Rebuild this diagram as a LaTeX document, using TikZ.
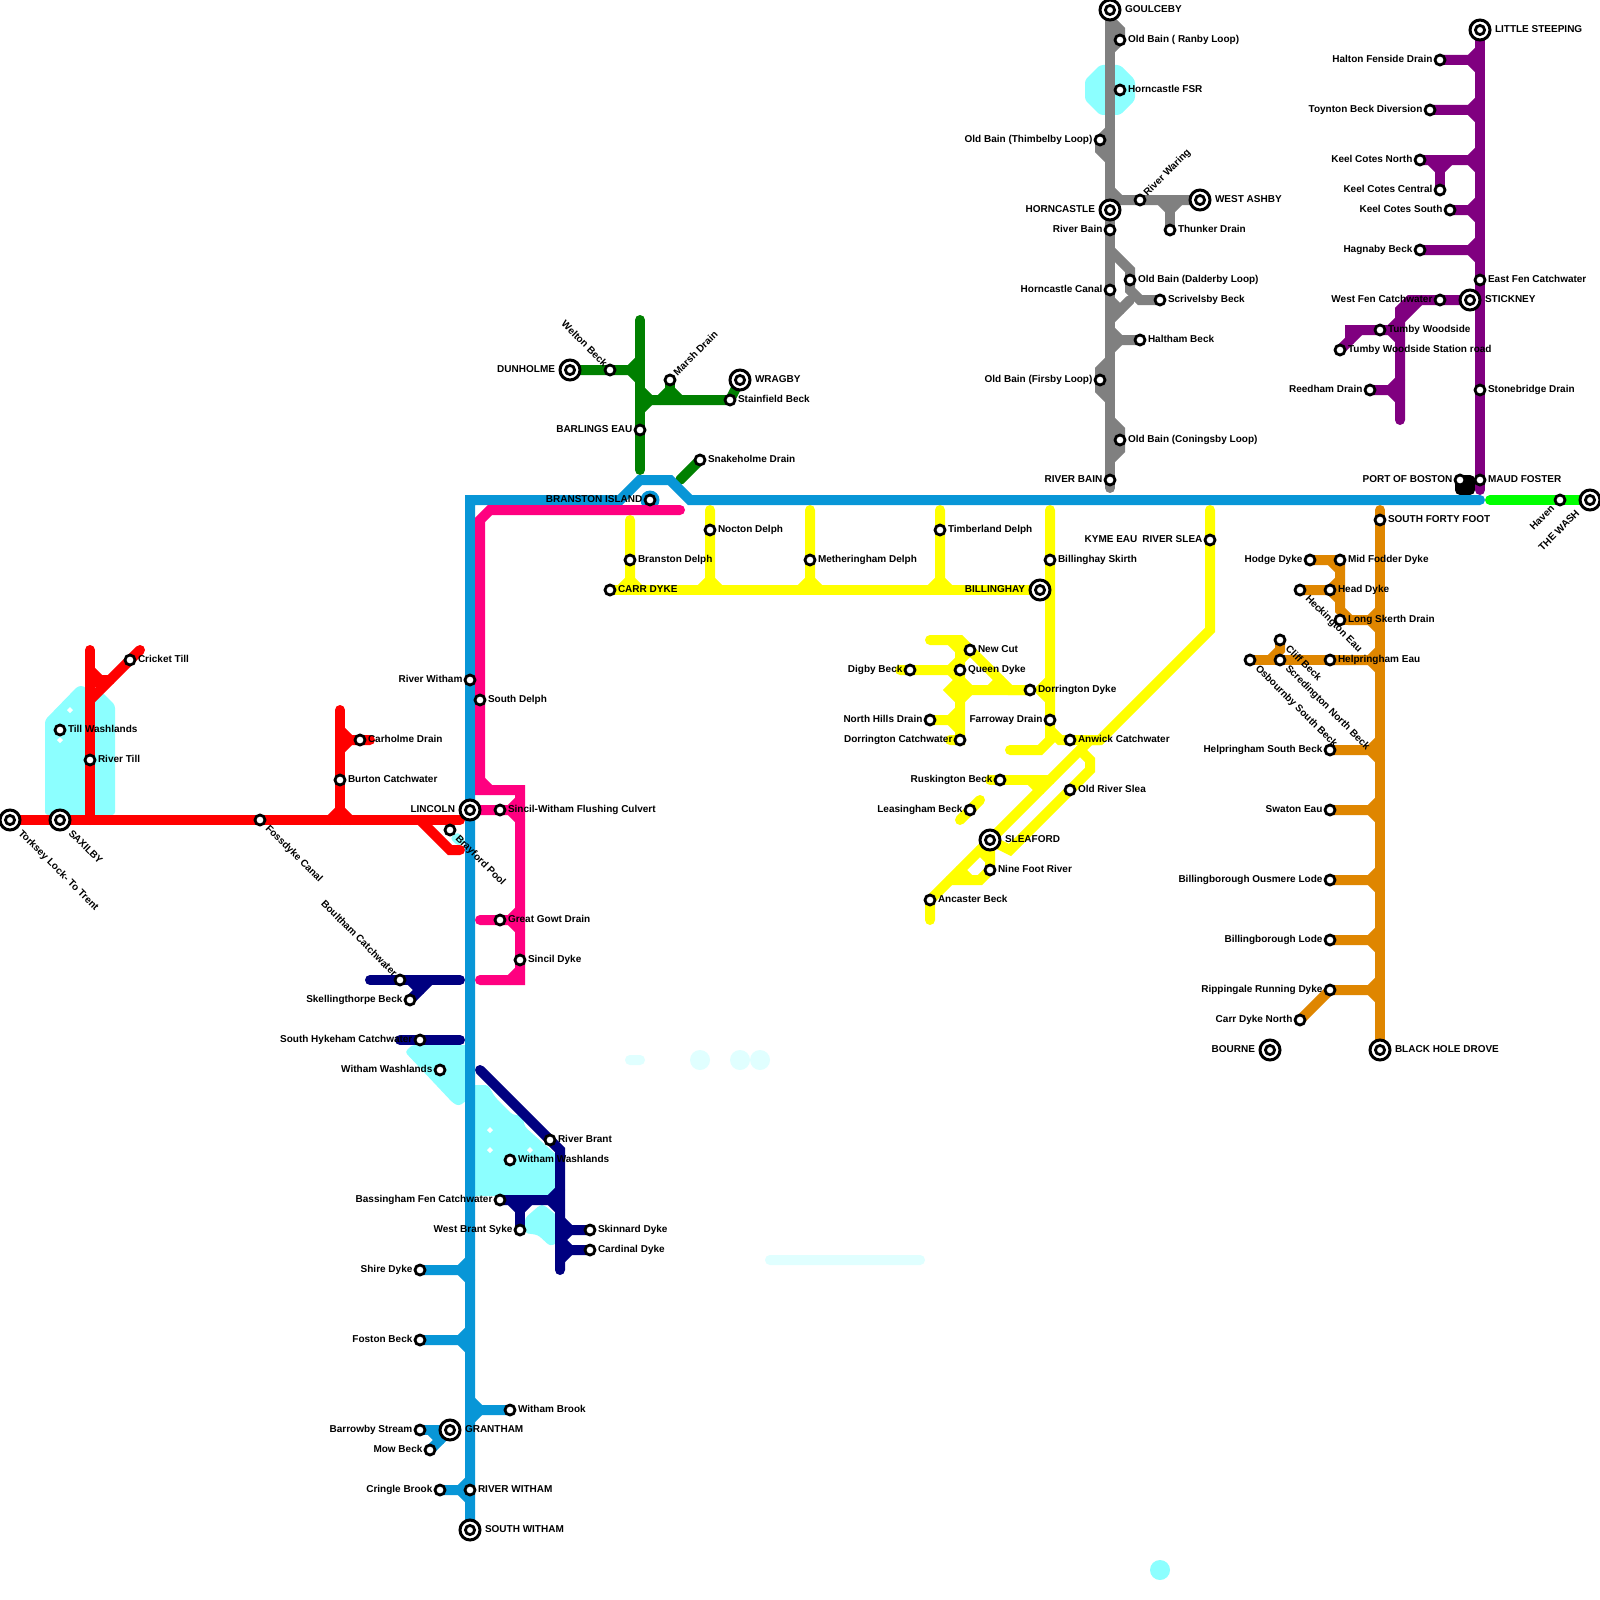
\documentclass[tikz,border=0pt]{standalone}
\usepackage{fontspec}
\setmainfont{Liberation Sans}
\pgfdeclarelayer{water}
\pgfdeclarelayer{lines}
\pgfsetlayers{water,lines,main}
\definecolor{cRed}{HTML}{FF0000}
\definecolor{cBlue}{HTML}{0896D7}
\definecolor{cPink}{HTML}{FF0080}
\definecolor{cNavy}{HTML}{000080}
\definecolor{cGreen}{HTML}{008000}
\definecolor{cLime}{HTML}{00FF00}
\definecolor{cYellow}{HTML}{FFFF00}
\definecolor{cOrange}{HTML}{DF8600}
\definecolor{cPurple}{HTML}{800080}
\definecolor{cGray}{HTML}{808080}
\definecolor{cWater}{HTML}{8CFFFF}
\definecolor{cPale}{HTML}{E0FFFF}
\tikzset{
  stn/.style={circle,draw=black,fill=white,line width=1.4pt,minimum size=5pt,inner sep=0pt,outer sep=0pt},
  icout/.style={circle,draw=black,fill=white,line width=1.5pt,minimum size=10pt,inner sep=0pt,outer sep=0pt},
  icin/.style={circle,draw=black,fill=white,line width=1.4pt,minimum size=4.6pt,inner sep=0pt,outer sep=0pt},
  lab/.style={font=\fontsize{5}{6}\selectfont\bfseries,text=black,inner sep=0pt,outer sep=0pt},
  lr/.style={lab,xshift=4pt,yshift=-1.25pt,anchor=base west},
  ll/.style={lab,xshift=-3.8pt,yshift=-1.25pt,anchor=base east},
  irr/.style={lab,xshift=7.5pt,yshift=-1.25pt,anchor=base west},
  ill/.style={lab,xshift=-7.5pt,yshift=-1.25pt,anchor=base east},
  ldr/.style={lab,xshift=2.5pt,yshift=-4.5pt,rotate=-45,anchor=base west},
  ldrb/.style={lab,xshift=4pt,yshift=-7pt,rotate=-45,anchor=base west},
  lur/.style={lab,xshift=3.8pt,yshift=1.8pt,rotate=45,anchor=base west},
  lul/.style={lab,xshift=-3.4pt,yshift=1.5pt,rotate=-45,anchor=base east},
  ldl/.style={lab,xshift=-2.5pt,yshift=-4.5pt,rotate=45,anchor=base east},
  ldlb/.style={lab,xshift=-5pt,yshift=-7pt,rotate=45,anchor=base east},
  river/.style={line width=5pt,line cap=round,line join=miter},
  wat/.style={fill=cWater,rounded corners=1.5pt},
  pale/.style={fill=cPale},
  speck/.style={fill=white}
}
\newcommand{\St}[4]{\node[stn] (#1) at (#2) {}; \node[#3] (#1-l) at (#1.center) {#4};}
\newcommand{\Ic}[4]{\node[icout] (#1) at (#2) {}; \node[icin] (#1-i) at (#1.center) {}; \node[#3] (#1-l) at (#1.center) {#4};}
\begin{document}
\begin{tikzpicture}[x=0.5pt,y=-0.5pt]
\useasboundingbox (0,0) rectangle (1600,1600);

% ---- red
\Ic{torksey}{10,820}{ldrb}{Torksey Lock- To Trent}
\Ic{saxilby}{60,820}{ldrb}{SAXILBY}
\St{fossdyke}{260,820}{ldr}{Fossdyke Canal}
\St{brayford}{450,830}{ldr}{Brayford Pool}
\St{carholme}{360,740}{lr}{Carholme Drain}
\St{burton}{340,780}{lr}{Burton Catchwater}
\St{rivertill}{90,760}{lr}{River Till}
\St{tillwash}{60,730}{lr}{Till Washlands}
\St{cricket}{130,660}{lr}{Cricket Till}
\Ic{lincoln}{470,810}{ill}{LINCOLN}
% ---- blue
\St{riverwitham}{470,680}{ll}{River Witham}
\St{branston}{650,500}{ll}{BRANSTON ISLAND}
\St{shire}{420,1270}{ll}{Shire Dyke}
\St{foston}{420,1340}{ll}{Foston Beck}
\St{withambrook}{510,1410}{lr}{Witham Brook}
\St{barrowby}{420,1430}{ll}{Barrowby Stream}
\Ic{grantham}{450,1430}{irr}{GRANTHAM}
\St{mow}{430,1450}{ll}{Mow Beck}
\St{cringle}{440,1490}{ll}{Cringle Brook}
\St{riverw}{470,1490}{lr}{RIVER WITHAM}
\Ic{southwitham}{470,1530}{irr}{SOUTH WITHAM}
% ---- pink
\St{southdelph}{480,700}{lr}{South Delph}
\St{sincilw}{500,810}{lr}{Sincil-Witham Flushing Culvert}
\St{gowt}{500,920}{lr}{Great Gowt Drain}
\St{sincil}{520,960}{lr}{Sincil Dyke}
% ---- navy
\St{boultham}{400,980}{lul}{Boultham Catchwater}
\St{skelling}{410,1000}{ll}{Skellingthorpe Beck}
\St{hykeham}{420,1040}{ll}{South Hykeham Catchwater}
\St{washl}{440,1070}{ll}{Witham Washlands}
\St{brant}{550,1140}{lr}{River Brant}
\St{washr}{510,1160}{lr}{Witham Washlands}
\St{bassingham}{500,1200}{ll}{Bassingham Fen Catchwater}
\St{westbrant}{520,1230}{ll}{West Brant Syke}
\St{skinnard}{590,1230}{lr}{Skinnard Dyke}
\St{cardinal}{590,1250}{lr}{Cardinal Dyke}
% ---- green
\Ic{dunholme}{570,370}{ill}{DUNHOLME}
\St{welton}{610,370}{lul}{Welton Beck}
\St{marsh}{670,380}{lur}{Marsh Drain}
\Ic{wragby}{740,380}{irr}{WRAGBY}
\St{stainfield}{730,400}{lr}{Stainfield Beck}
\St{barlings}{640,430}{ll}{BARLINGS EAU}
\St{snakeholme}{700,460}{lr}{Snakeholme Drain}
% ---- gray
\Ic{goulceby}{1110,10}{irr}{GOULCEBY}
\St{ranby}{1120,40}{lr}{Old Bain ( Ranby Loop)}
\St{fsr}{1120,90}{lr}{Horncastle FSR}
\St{thimbelby}{1100,140}{ll}{Old Bain (Thimbelby Loop)}
\St{waring}{1140,200}{lur}{River Waring}
\Ic{westashby}{1200,200}{irr}{WEST ASHBY}
\Ic{horncastle}{1110,210}{ill}{HORNCASTLE}
\St{thunker}{1170,230}{lr}{Thunker Drain}
\St{riverbain}{1110,230}{ll}{River Bain}
\St{dalderby}{1130,280}{lr}{Old Bain (Dalderby Loop)}
\St{canal}{1110,290}{ll}{Horncastle Canal}
\St{scrivelsby}{1160,300}{lr}{Scrivelsby Beck}
\St{haltham}{1140,340}{lr}{Haltham Beck}
\St{firsby}{1100,380}{ll}{Old Bain (Firsby Loop)}
\St{coningsby}{1120,440}{lr}{Old Bain (Coningsby Loop)}
\St{bainlow}{1110,480}{ll}{RIVER BAIN}
% ---- purple
\Ic{steeping}{1480,30}{irr}{LITTLE STEEPING}
\St{halton}{1440,60}{ll}{Halton Fenside Drain}
\St{toynton}{1430,110}{ll}{Toynton Beck Diversion}
\St{keeln}{1420,160}{ll}{Keel Cotes North}
\St{keelc}{1440,190}{ll}{Keel Cotes Central}
\St{keels}{1450,210}{ll}{Keel Cotes South}
\St{hagnaby}{1420,250}{ll}{Hagnaby Beck}
\St{eastfen}{1480,280}{lr}{East Fen Catchwater}
\St{westfen}{1440,300}{ll}{West Fen Catchwater}
\Ic{stickney}{1470,300}{irr}{STICKNEY}
\St{tumby}{1380,330}{lr}{Tumby Woodside}
\St{tumbys}{1340,350}{lr}{Tumby Woodside Station road}
\St{reedham}{1370,390}{ll}{Reedham Drain}
\St{stonebridge}{1480,390}{lr}{Stonebridge Drain}
\St{boston}{1460,480}{ll}{PORT OF BOSTON}
\St{maud}{1480,480}{lr}{MAUD FOSTER}
% ---- lime
\St{haven}{1560,500}{ldl}{Haven}
\Ic{wash}{1590,500}{ldlb}{THE WASH}
% ---- orange
\St{fortyfoot}{1380,520}{lr}{SOUTH FORTY FOOT}
\St{hodge}{1310,560}{ll}{Hodge Dyke}
\St{midfodder}{1340,560}{lr}{Mid Fodder Dyke}
\St{head}{1330,590}{lr}{Head Dyke}
\St{heckington}{1300,590}{ldr}{Heckington Eau}
\St{skerth}{1340,620}{lr}{Long Skerth Drain}
\St{cliff}{1280,640}{ldr}{Cliff Beck}
\St{scredington}{1280,660}{ldr}{Scredington North Beck}
\St{osbournby}{1250,660}{ldr}{Osbournby South Beck}
\St{helpeau}{1330,660}{lr}{Helpringham Eau}
\St{helpsouth}{1330,750}{ll}{Helpringham South Beck}
\St{swaton}{1330,810}{ll}{Swaton Eau}
\St{ousmere}{1330,880}{ll}{Billingborough Ousmere Lode}
\St{lode}{1330,940}{ll}{Billingborough Lode}
\St{rippingale}{1330,990}{ll}{Rippingale Running Dyke}
\St{carrnorth}{1300,1020}{ll}{Carr Dyke North}
\Ic{bourne}{1270,1050}{ill}{BOURNE}
\Ic{blackhole}{1380,1050}{irr}{BLACK HOLE DROVE}
% ---- yellow
\St{carr}{610,590}{lr}{CARR DYKE}
\St{branstond}{630,560}{lr}{Branston Delph}
\St{nocton}{710,530}{lr}{Nocton Delph}
\St{metheringham}{810,560}{lr}{Metheringham Delph}
\St{timberland}{940,530}{lr}{Timberland Delph}
\St{skirth}{1050,560}{lr}{Billinghay Skirth}
\Ic{billinghay}{1040,590}{ill}{BILLINGHAY}
\St{slea}{1210,540}{ll}{KYME EAU\hspace{2.5pt}RIVER SLEA}
\St{newcut}{970,650}{lr}{New Cut}
\St{queen}{960,670}{lr}{Queen Dyke}
\St{digby}{910,670}{ll}{Digby Beck}
\St{dorrdyke}{1030,690}{lr}{Dorrington Dyke}
\St{northhills}{930,720}{ll}{North Hills Drain}
\St{farroway}{1050,720}{ll}{Farroway Drain}
\St{dorrcatch}{960,740}{ll}{Dorrington Catchwater}
\St{anwick}{1070,740}{lr}{Anwick Catchwater}
\St{ruskington}{1000,780}{ll}{Ruskington Beck}
\St{oldslea}{1070,790}{lr}{Old River Slea}
\St{leasingham}{970,810}{ll}{Leasingham Beck}
\Ic{sleaford}{990,840}{irr}{SLEAFORD}
\St{ninefoot}{990,870}{lr}{Nine Foot River}
\St{ancaster}{930,900}{lr}{Ancaster Beck}

\begin{pgfonlayer}{water}
  \fill[white] (0,0) rectangle (1600,1600);
  \fill[wat] (45,720) -- (78,686) -- (84,686) -- (90,692) -- (90,815) -- (45,815) -- cycle;
  \fill[wat] (90,700) -- (96,692) -- (102,692) -- (115,705) -- (115,815) -- (90,815) -- cycle;
  \fill[wat] (1085,80) -- (1100,65) -- (1120,65) -- (1135,80) -- (1135,100) -- (1120,115) -- (1100,115) -- (1085,100) -- cycle;
  \fill[wat] (405,1052) -- (412,1045) -- (470,1045) -- (470,1098) -- (459,1106) -- (453,1103) -- cycle;
  \fill[wat] (470,1085) -- (488,1085) -- (495,1097) -- (513,1115) -- (522,1115) -- (525,1127) -- (560,1158) -- (560,1188) -- (548,1196) -- (470,1196) -- cycle;
  \fill[wat] (540,1205) -- (525,1218) -- (525,1233) -- (538,1235) -- (550,1246) -- (560,1242) -- (560,1218) -- (544,1205) -- cycle;
  \fill[wat] (450,838) -- (458,832) -- (466,842) -- (458,846) -- cycle;
  \foreach \px/\py in {70/710,60/740,490/1130,490/1150,530/1150}
    \fill[speck] (\px-3,\py) -- (\px,\py-3) -- (\px+3,\py) -- (\px,\py+3) -- cycle;
  \fill[pale,rounded corners=2.45pt] (625,1055) rectangle (645,1065);
  \fill[pale] (700,1060) circle[radius=10];
  \fill[pale] (740,1060) circle[radius=10];
  \fill[pale] (760,1060) circle[radius=10];
  \fill[pale,rounded corners=2.45pt] (765,1255) rectangle (925,1265);
  \fill[cWater] (1160,1570) circle[radius=10];
\end{pgfonlayer}

\begin{pgfonlayer}{lines}
\begin{scope}[river,draw=cGray]
  \draw (goulceby.center) -- (1110,488);
  \draw (1110,20) -- (1120,30) -- (ranby.center) -- (1110,50);
  \draw (1110,130) -- (thimbelby.center) -- (1100,150) -- (1110,160);
  \draw (1110,190) -- (1120,200) -- (westashby.center);
  \draw (1160,200) -- (1170,210) -- (1180,200);
  \draw (1170,210) -- (thunker.center);
  \draw (1110,250) -- (1130,270) -- (1130,290) -- (1140,300) -- (scrivelsby.center);
  \draw (1130,300) -- (1110,320);
  \draw (1110,300) -- (1120,310);
  \draw (1110,330) -- (1120,340) -- (haltham.center);
  \draw (1120,340) -- (1110,350);
  \draw (1110,360) -- (1100,370) -- (1100,390) -- (1110,400);
  \draw (1110,420) -- (1120,430) -- (1120,450) -- (1110,460);
\end{scope}
\begin{scope}[river,draw=cPurple]
  \draw (steeping.center) -- (1480,490);
  \foreach \st/\yy in {halton/60,toynton/110,keeln/160,keels/210,hagnaby/250}{
    \draw (\st.center) -- (1470,\yy) -- (1480,\yy-10);
    \draw (1470,\yy) -- (1480,\yy+10);
  }
  \draw (1430,160) -- (1440,170) -- (1450,160);
  \draw (1440,170) -- (keelc.center);
  \draw (stickney.center) -- (1410,300) -- (1400,310) -- (1400,420);
  \draw (1420,300) -- (1400,320);
  \draw (1400,320) -- (1390,330) -- (1350,330) -- (1350,340);
  \draw (1390,330) -- (1400,340);
  \draw (tumbys.center) -- (1360,330);
  \draw (reedham.center) -- (1390,390) -- (1400,380);
  \draw (1390,390) -- (1400,400);
\end{scope}
\begin{scope}[river,draw=black]
  \draw[fill=black,line join=round] (1460,480) -- (1470,480) -- (1470,490) -- (1460,490) -- cycle;
\end{scope}
\begin{scope}[river,draw=cOrange]
  \draw (1380,510) -- (blackhole.center);
  \foreach \st/\yy in {helpeau/660,helpsouth/750,swaton/810,ousmere/880,lode/940,rippingale/990}{
    \draw (\st.center) -- (1370,\yy) -- (1380,\yy-10);
    \draw (1370,\yy) -- (1380,\yy+10);
  }
  \draw (hodge.center) -- (midfodder.center) -- (1340,610) -- (1350,620) -- (1370,620) -- (1380,610);
  \draw (1370,620) -- (1380,630);
  \draw (skerth.center) -- (1350,620);
  \draw (1330,560) -- (1340,570);
  \draw (1340,580) -- (head.center);
  \draw (heckington.center) -- (head.center) -- (1340,600);
  \draw (osbournby.center) -- (helpeau.center);
  \draw (cliff.center) -- (1280,650) -- (1270,660);
  \draw (carrnorth.center) -- (rippingale.center);
\end{scope}
\begin{scope}[river,draw=cYellow]
  \draw (carr.center) -- (billinghay.center);
  \draw (630,520) -- (630,580) -- (620,590);
  \draw (630,580) -- (640,590);
  \foreach \xx in {710,810,940}{
    \draw (\xx,510) -- (\xx,580) -- (\xx-10,590);
    \draw (\xx,580) -- (\xx+10,590);
  }
  \draw (1050,510) -- (1050,720) -- (1050,740) -- (1040,750) -- (1010,750);
  \draw (1210,510) -- (1210,630) -- (1100,740) -- (1090,740) -- (ancaster.center) -- (930,920);
  \draw (930,640) -- (960,640) -- (1010,690) -- (dorrdyke.center);
  \draw (950,640) -- (960,650) -- (dorrcatch.center) -- (950,740);
  \draw (newcut.center) -- (960,660);
  \draw (900,670) -- (950,670) -- (960,660);
  \draw (950,670) -- (960,680) -- (970,690) -- (1030,690);
  \draw (990,690) -- (1000,680);
  \draw (960,680) -- (950,690) -- (960,700) -- (970,690);
  \draw (northhills.center) -- (950,720) -- (960,710);
  \draw (950,720) -- (960,730);
  \draw (1040,690) -- (1050,680);
  \draw (1040,690) -- (1050,700);
  \draw (1050,730) -- (1060,740) -- (1100,740);
  \draw (1080,750) -- (1090,760) -- (1090,770) -- (1010,850) -- (sleaford.center);
  \draw (990,780) -- (1050,780);
  \draw (1030,780) -- (1040,790);
  \draw (960,820) -- (980,800);
  \draw (980,850) -- (990,860);
  \draw (sleaford.center) -- (ninefoot.center) -- (980,880) -- (950,880);
  \draw (960,870) -- (970,880);
\end{scope}
\begin{scope}[river,draw=cLime]
  \draw (1490,500) -- (wash.center);
\end{scope}
\begin{scope}[river,draw=cGreen]
  \draw (640,320) -- (640,470);
  \draw (dunholme.center) -- (630,370) -- (640,360);
  \draw (630,370) -- (640,380);
  \draw (640,390) -- (650,400) -- (stainfield.center) -- (wragby.center);
  \draw (650,400) -- (640,410);
  \draw (660,400) -- (670,390) -- (680,400);
  \draw (marsh.center) -- (670,390);
  \draw (680,480) -- (snakeholme.center);
\end{scope}
\begin{scope}[river,draw=cRed]
  \draw (torksey.center) -- (460,820);
  \draw (90,820) -- (90,650);
  \draw (140,650) -- (110,680) -- (90,700);
  \draw (110,680) -- (100,680) -- (90,670);
  \draw (90,682) -- (100,682);
  \draw (340,710) -- (340,820);
  \draw (330,820) -- (340,810) -- (350,820);
  \draw (370,740) -- (350,740) -- (340,730);
  \draw (350,740) -- (340,750);
  \draw (420,820) -- (450,850) -- (460,850);
\end{scope}
\begin{scope}[river,draw=cNavy]
  \draw (370,980) -- (460,980);
  \draw (skelling.center) -- (430,980);
  \draw (410,980) -- (420,990);
  \draw (400,1040) -- (460,1040);
  \draw (480,1070) -- (560,1150) -- (560,1270);
  \draw (bassingham.center) -- (550,1200) -- (560,1190);
  \draw (550,1200) -- (560,1210);
  \draw (510,1200) -- (520,1210) -- (530,1200);
  \draw (520,1210) -- (westbrant.center);
  \draw (560,1220) -- (570,1230) -- (skinnard.center);
  \draw (570,1230) -- (560,1240);
  \draw (560,1240) -- (570,1250) -- (cardinal.center);
  \draw (570,1250) -- (560,1260);
\end{scope}
\begin{scope}[river,draw=cBlue]
  \fill[cBlue] (branston.center) circle[radius=9.5];
  \draw (southwitham.center) -- (470,500) -- (620,500) -- (640,480) -- (670,480) -- (690,500) -- (1480,500);
  \foreach \st/\yy in {shire/1270,foston/1340,cringle/1490}{
    \draw (\st.center) -- (460,\yy) -- (470,\yy-10);
    \draw (460,\yy) -- (470,\yy+10);
  }
  \draw (470,1400) -- (480,1410) -- (withambrook.center);
  \draw (480,1410) -- (470,1420);
  \draw (barrowby.center) -- (grantham.center);
  \draw (grantham.center) -- (mow.center);
  \draw (430,1430) -- (440,1440);
\end{scope}
\begin{scope}[river,draw=cPink]
  \draw (680,510) -- (490,510) -- (480,520) -- (480,790) -- (520,790) -- (520,980) -- (480,980);
  \draw (480,780) -- (490,790);
  \draw (lincoln.center) -- (510,810) -- (520,800);
  \draw (510,810) -- (520,820);
  \draw (480,920) -- (510,920) -- (520,910);
  \draw (510,920) -- (520,930);
  \draw (510,980) -- (520,970);
\end{scope}
\end{pgfonlayer}
\end{tikzpicture}
\end{document}
